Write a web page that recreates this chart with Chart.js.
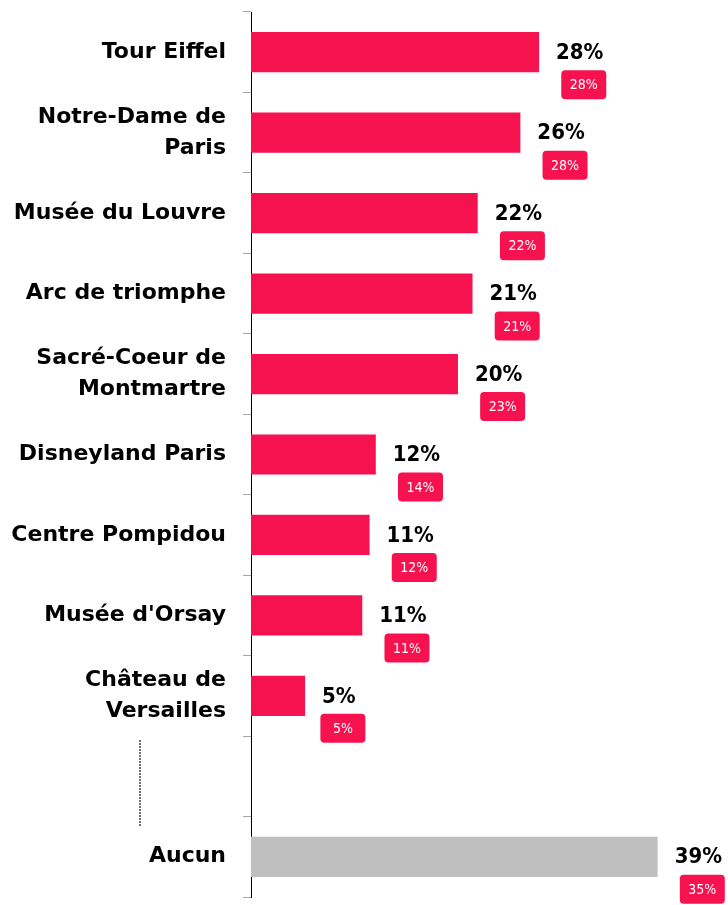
<!DOCTYPE html>
<html>
<head>
<meta charset="utf-8">
<script src="https://cdn.jsdelivr.net/npm/chart.js@4/dist/chart.umd.min.js"></script>
<style>
  body { margin: 0; background: #fff; }
  #wrap { width: 728px; height: 905px; position: relative; }
</style>
</head>
<body>
<div id="wrap"><canvas id="chart"></canvas></div>
<script>
// categories (multi-line labels as arrays), one empty slot before "Aucun"
const categories = [
    ['Tour Eiffel'], ['Notre-Dame de', 'Paris'], ['Musée du Louvre'], ['Arc de triomphe'],
    ['Sacré-Coeur de', 'Montmartre'], ['Disneyland Paris'], ['Centre Pompidou'],
    ["Musée d'Orsay"], ['Château de', 'Versailles'], '', ['Aucun']
];
const values = [27.7, 25.9, 21.8, 21.3, 19.9, 12.0, 11.4, 10.7, 5.2, null, 39.1];
const valueLabels = ['28%', '26%', '22%', '21%', '20%', '12%', '11%', '11%', '5%', '', '39%'];
const compareLabels = ['28%', '28%', '22%', '21%', '23%', '14%', '12%', '11%', '5%', '', '35%'];

const RED = '#F5124F';
const GREY = '#BFBFBF';
const FONT = '"DejaVu Sans Condensed", "DejaVu Sans", sans-serif';
const LABEL_FONT = '"DejaVu Sans", sans-serif';

// bold value + small red badge under it
const labelsPlugin = {
    id: 'labels',
    afterDatasetsDraw(chart) {
        const ctx = chart.ctx;
        const meta = chart.getDatasetMeta(0);
        meta.data.forEach(function(bar, i) {
            if (!valueLabels[i]) return;
            ctx.save();
            ctx.font = 'bold 22px ' + FONT;
            ctx.fillStyle = '#000';
            ctx.textAlign = 'left';
            ctx.textBaseline = 'middle';
            const x = bar.x + 17;
            ctx.fillText(valueLabels[i], x, bar.y + 1);
            const w = ctx.measureText(valueLabels[i]).width;

            const bw = 45, bh = 29;
            const cx = x + w / 2 + 4;
            const top = bar.y + 18;
            ctx.fillStyle = RED;
            ctx.beginPath();
            ctx.roundRect(cx - bw / 2, top, bw, bh, 4);
            ctx.fill();
            ctx.fillStyle = '#fff';
            ctx.font = '14px ' + FONT;
            ctx.textAlign = 'center';
            ctx.fillText(compareLabels[i], cx, top + bh / 2 + 1);
            ctx.restore();
        });
    }
};

// dotted separator in the empty row
const dotsPlugin = {
    id: 'dots',
    afterDraw(chart) {
        const ctx = chart.ctx;
        const yc = chart.scales.y.getPixelForValue(9);
        ctx.save();
        ctx.strokeStyle = '#000';
        ctx.lineWidth = 1.5;
        ctx.setLineDash([1.5, 1.5]);
        ctx.beginPath();
        ctx.moveTo(140, yc - 36);
        ctx.lineTo(140, yc + 50);
        ctx.stroke();
        ctx.restore();
    }
};

const ctx = document.getElementById('chart').getContext('2d');

const myChart = new Chart(ctx, {
    type: 'bar',
    data: {
        labels: categories,
        datasets: [{
            data: values,
            backgroundColor: values.map(function(v, i) { return i === values.length - 1 ? GREY : RED; }),
            barPercentage: 0.5,
            categoryPercentage: 1.0
        }]
    },
    options: {
        indexAxis: 'y',
        responsive: true,
        maintainAspectRatio: false,
        animation: false,
        layout: { padding: { top: 12, bottom: 8, right: 9, left: 0 } },
        plugins: {
            legend: { display: false },
            tooltip: { enabled: false }
        },
        scales: {
            x: {
                display: false,
                min: 0,
                max: 45
            },
            y: {
                afterFit: function(scale) {
                    scale.width = 251;
                    scale.paddingTop = 0;
                    scale.paddingBottom = 0;
                },
                grid: {
                    drawOnChartArea: false,
                    tickLength: 8,
                    color: '#A6A6A6',
                    offset: true
                },
                border: { display: true, color: '#000', width: 1 },
                ticks: {
                    padding: 17,
                    color: '#000',
                    font: { family: LABEL_FONT, size: 22, weight: 'bold', lineHeight: 1.4 }
                }
            }
        }
    },
    plugins: [labelsPlugin, dotsPlugin]
});
</script>
</body>
</html>
